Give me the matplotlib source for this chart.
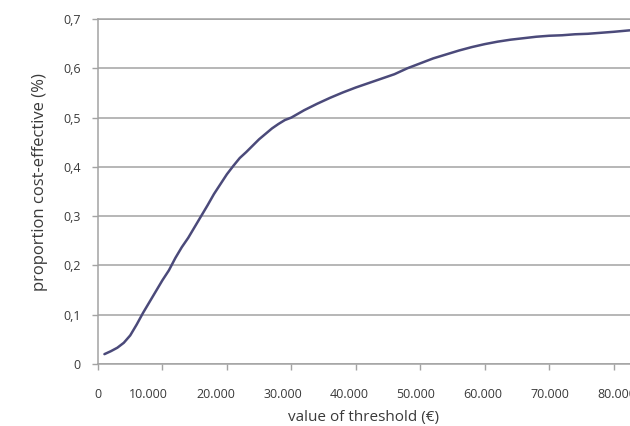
import matplotlib
matplotlib.use("Agg")
import matplotlib.pyplot as plt
from matplotlib.ticker import FixedLocator, NullFormatter

# ---- data ----
threshold = [1000, 2000, 3000, 4000, 5000, 6000, 7000, 8000, 9000, 10000,
             11000, 12000, 13000, 14000, 15000, 16000, 17000, 18000, 19000, 20000,
             21000, 22000, 23000, 24000, 25000, 26000, 27000, 28000, 29000, 30000,
             32000, 34000, 36000, 38000, 40000, 42000, 44000, 46000, 48000, 50000,
             52000, 54000, 56000, 58000, 60000, 62000, 64000, 66000, 68000, 70000,
             72000, 74000, 76000, 78000, 80000, 82500]
proportion = [0.020, 0.026, 0.033, 0.043, 0.058, 0.080, 0.104, 0.126, 0.148, 0.170,
              0.190, 0.215, 0.237, 0.256, 0.278, 0.300, 0.322, 0.345, 0.365, 0.385,
              0.402, 0.418, 0.430, 0.443, 0.456, 0.467, 0.478, 0.487, 0.495, 0.500,
              0.515, 0.528, 0.540, 0.551, 0.561, 0.570, 0.579, 0.588, 0.600, 0.610,
              0.620, 0.628, 0.636, 0.643, 0.649, 0.654, 0.658, 0.661, 0.664, 0.666,
              0.667, 0.669, 0.670, 0.672, 0.674, 0.677]

x_ticks = [0, 10000, 20000, 30000, 40000, 50000, 60000, 70000, 80000]
x_tick_labels = ["0", "10.000", "20.000", "30.000", "40.000", "50.000",
                 "60.000", "70.000", "80.000"]
# label positions in the reference are slightly offset from the tick marks
x_label_pos = [0, 7880, 18250, 28610, 38980, 49340, 59710, 70070, 80440]
y_ticks = [0, 0.1, 0.2, 0.3, 0.4, 0.5, 0.6, 0.7]
y_tick_labels = ["0", "0,1", "0,2", "0,3", "0,4", "0,5", "0,6", "0,7"]

x_title = "value of threshold (€)"
y_title = "proportion cost-effective (%)"

# ---- style ----
FONT = ["Open Sans", "DejaVu Sans"]
plt.rcParams["font.family"] = FONT
TXT = "#3a3a3a"
GRID = "#a3a3a3"
LINE = "#4b4a7a"

W, H = 630, 426
fig = plt.figure(figsize=(W / 100, H / 100), dpi=100)
ax = fig.add_axes([98 / W, (H - 364) / H, (W - 98) / W, (364 - 19) / H])

ax.plot(threshold, proportion, color=LINE, lw=1.8, solid_capstyle="round",
        zorder=3)

ax.set_xlim(0, 82550)
ax.set_ylim(0, 0.7)

# y axis
ax.set_yticks(y_ticks)
ax.set_yticklabels(y_tick_labels)
ax.tick_params(axis="y", direction="out", length=4.5, width=1.0, color=GRID,
               pad=8, labelsize=9, labelcolor=TXT)
ax.yaxis.grid(True, color=GRID, lw=1.1)
ax.set_axisbelow(True)

# x axis: tick marks at major, labels at minor positions
ax.xaxis.remove_overlapping_locs = False
ax.xaxis.set_major_locator(FixedLocator(x_ticks))
ax.xaxis.set_major_formatter(NullFormatter())
ax.xaxis.set_minor_locator(FixedLocator(x_label_pos))
ax.set_xticklabels(x_tick_labels, minor=True)
ax.tick_params(axis="x", which="major", direction="out", length=4.5, width=1.0,
               color=GRID)
ax.tick_params(axis="x", which="minor", length=0, pad=17, labelsize=9,
               labelcolor=TXT)

for s in ("top", "right"):
    ax.spines[s].set_visible(False)
for s in ("left", "bottom"):
    ax.spines[s].set_color(GRID)
    ax.spines[s].set_linewidth(1.1)

# top gridline at 0.7 (full width, unclipped)
ax.axhline(0.7, color=GRID, lw=1.1, clip_on=False, zorder=1)

fig.text(40 / W, 1 - 182 / H, y_title, rotation=90, ha="center", va="center",
         fontsize=12, color=TXT)
fig.text(364 / W, 1 - 418 / H, x_title, ha="center", va="center",
         fontsize=11, color=TXT)

fig.savefig("out.png", dpi=100, facecolor="white")
